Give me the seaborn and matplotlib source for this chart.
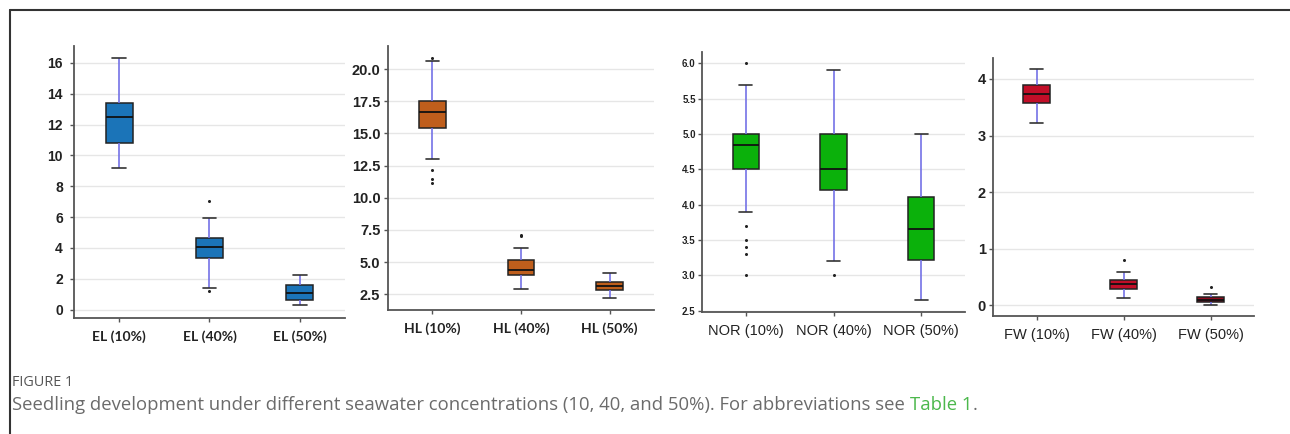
import pandas as pd
import seaborn as sns
import matplotlib.pyplot as plt
from matplotlib.lines import Line2D

# data: each box as [low whisker, q1, median, q3, high whisker]
el_labels = ["EL (10%)", "EL (40%)", "EL (50%)"]
el_box = [[9.2, 10.8, 12.5, 13.37, 16.3],
          [1.4, 3.34, 4.07, 4.65, 5.92],
          [0.3, 0.62, 1.05, 1.57, 2.26]]
el_out = [[], [7.05, 1.17], []]

hl_labels = ["HL (10%)", "HL (40%)", "HL (50%)"]
hl_box = [[13.02, 15.46, 16.65, 17.53, 20.6],
          [2.89, 4.02, 4.41, 5.17, 6.1],
          [2.19, 2.81, 3.17, 3.43, 4.18]]
hl_out = [[20.9, 12.17, 11.5, 11.18], [7.1, 7.0], []]

nor_labels = ["NOR (10%)", "NOR (40%)", "NOR (50%)"]
nor_box = [[3.9, 4.5, 4.85, 5.0, 5.7],
           [3.2, 4.2, 4.5, 5.0, 5.9],
           [2.65, 3.21, 3.65, 4.11, 5.0]]
nor_out = [[6.0, 3.7, 3.5, 3.4, 3.3, 3.0], [3.0], []]

fw_labels = ["FW (10%)", "FW (40%)", "FW (50%)"]
fw_box = [[3.22, 3.58, 3.74, 3.89, 4.18],
          [0.13, 0.29, 0.38, 0.45, 0.58],
          [0.0, 0.06, 0.10, 0.14, 0.20]]
fw_out = [[], [0.8], [0.32]]

el_ticks = [0, 2, 4, 6, 8, 10, 12, 14, 16]
hl_ticks = [2.5, 5.0, 7.5, 10.0, 12.5, 15.0, 17.5, 20.0]
nor_ticks = [2.5, 3.0, 3.5, 4.0, 4.5, 5.0, 5.5, 6.0]
fw_ticks = [0, 1, 2, 3, 4]


def long_form(labels, values):
    rows = [(lab, v) for lab, vals in zip(labels, values) for v in vals]
    return pd.DataFrame(rows, columns=["group", "value"])


sns.set_style("white")
plt.rcParams['font.family'] = ['Liberation Sans', 'DejaVu Sans']

fig = plt.figure(figsize=(12.9, 4.34), dpi=100)
W, H = 1290, 434

# left, right, top, bottom in pixels
panels = [
    dict(labels=el_labels, box=el_box, out=el_out, colors=["#1B74B8"] * 3,
         ticks=el_ticks, ylim=(-0.55, 17.1), fmt="{:g}", px=(74, 345, 46, 318),
         yfs=10, ypad=5, xfont="Lato", xw="bold", xfs=10),
    dict(labels=hl_labels, box=hl_box, out=hl_out, colors=["#BF5E1C"] * 3,
         ticks=hl_ticks, ylim=(1.28, 21.8), fmt="{:.1f}", px=(388, 654, 46, 310),
         yfs=10.5, ypad=2.5, xfont="Lato", xw="bold", xfs=10),
    dict(labels=nor_labels, box=nor_box, out=nor_out, colors=["#0BB10B"] * 3,
         ticks=nor_ticks, ylim=(2.48, 6.16), fmt="{:.1f}", px=(702, 965, 52, 312),
         yfs=7, ypad=1.5, xfont="Liberation Sans", xw="normal", xfs=10.5),
    dict(labels=fw_labels, box=fw_box, out=fw_out, colors=["#C20E28", "#C20E28", "#8E0B1E"],
         ticks=fw_ticks, ylim=(-0.19, 4.37), fmt="{:g}", px=(993, 1254, 58, 316),
         yfs=10.5, ypad=2, xfont="Liberation Sans", xw="normal", xfs=10.5),
]

for p in panels:
    l, r, t, b = p["px"]
    ax = fig.add_axes([l / W, 1 - b / H, (r - l) / W, (b - t) / H])
    df = long_form(p["labels"], p["box"])
    sns.boxplot(data=df, x="group", y="value", hue="group", order=p["labels"],
                hue_order=p["labels"], palette=p["colors"], saturation=1,
                width=0.3, whis=(0, 100), showfliers=False, linewidth=1.1,
                linecolor="#222222", legend=False, ax=ax,
                whiskerprops={"color": "#7472E6", "linewidth": 1.2},
                capprops={"color": "#333333", "linewidth": 1.2},
                medianprops={"color": "#111111", "linewidth": 1.3})
    out_df = long_form(p["labels"], p["out"])
    if len(out_df):
        sns.stripplot(data=out_df, x="group", y="value", order=p["labels"],
                      jitter=False, color="#222222", size=2.2, linewidth=0, ax=ax)

    ax.set_xlim(-0.5, 2.5)
    ax.set_ylim(*p["ylim"])
    ax.set_yticks(p["ticks"])
    ax.set_yticklabels([p["fmt"].format(v) for v in p["ticks"]],
                       fontsize=p["yfs"], fontweight="bold", color="#222222")
    ax.set_xticks([0, 1, 2])
    ax.set_xticklabels(p["labels"], fontsize=p["xfs"], fontweight=p["xw"],
                       family=[p["xfont"], "DejaVu Sans"], color="#222222")
    ax.set_xlabel("")
    ax.set_ylabel("")
    ax.yaxis.grid(True, color="#E6E6E6", linewidth=1.0)
    ax.set_axisbelow(True)
    for side in ["top", "right"]:
        ax.spines[side].set_visible(False)
    for side in ["left", "bottom"]:
        ax.spines[side].set_color("#555555")
        ax.spines[side].set_linewidth(1.3)
    ax.tick_params(axis="y", length=3, width=1, color="#555555", pad=p["ypad"], left=True)
    ax.tick_params(axis="x", length=3, width=1, color="#555555", pad=6, bottom=True)

# frame around the figure
fig.add_artist(Line2D([10 / W, 1], [1 - 10 / H] * 2, color="#333333", lw=1.5,
                      transform=fig.transFigure))
fig.add_artist(Line2D([10 / W] * 2, [0, 1 - 10 / H], color="#333333", lw=1.5,
                      transform=fig.transFigure))

# caption
cap = ['Open Sans', 'DejaVu Sans']
fig.text(12 / W, 1 - 386 / H, "FIGURE 1", fontsize=10.4, color="#555555",
         family=cap, va="baseline")
t1 = fig.text(12 / W, 1 - 410 / H,
              "Seedling development under different seawater concentrations "
              "(10, 40, and 50%). For abbreviations see",
              fontsize=13.3, color="#6B6B6B", family=cap, va="baseline")
fig.canvas.draw()
x2 = t1.get_window_extent().x1 / fig.bbox.width + 5 / W
t2 = fig.text(x2, 1 - 410 / H, "Table 1", fontsize=13.3, color="#4CB84C",
              family=cap, va="baseline")
fig.canvas.draw()
x3 = t2.get_window_extent().x1 / fig.bbox.width
fig.text(x3, 1 - 410 / H, ".", fontsize=13.3, color="#6B6B6B", family=cap, va="baseline")

plt.savefig("out.png", dpi=100)
